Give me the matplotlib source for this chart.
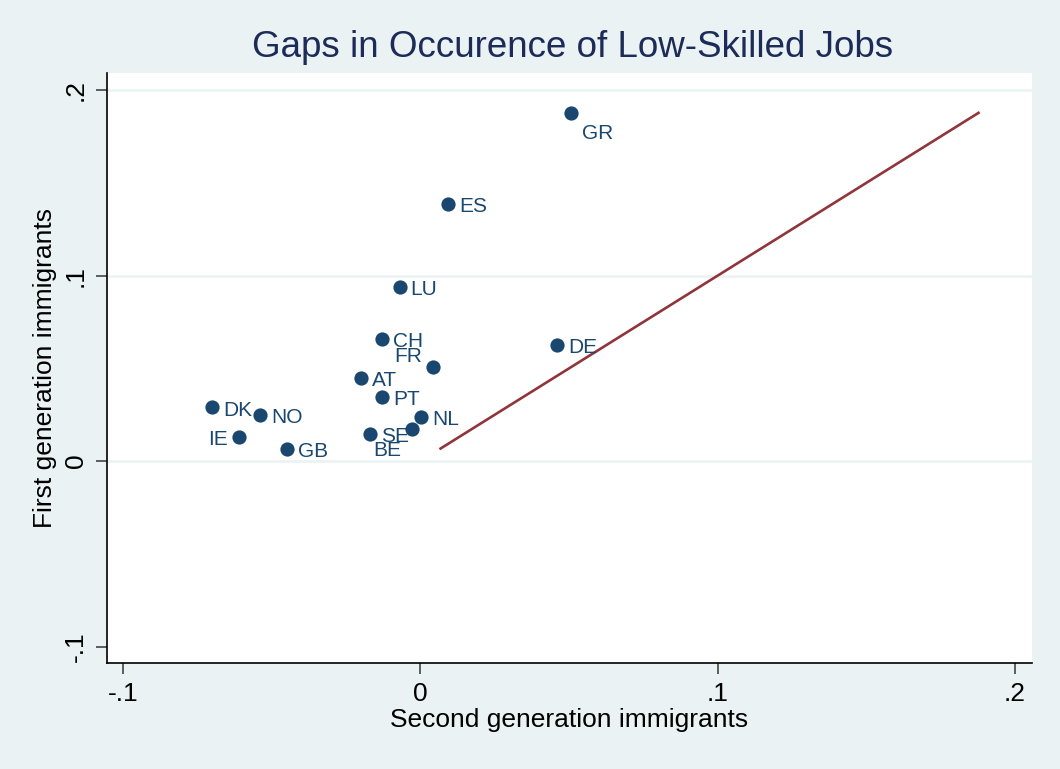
import matplotlib
matplotlib.use("Agg")
import matplotlib.pyplot as plt

# gaps in occurrence of low-skilled jobs, by country
countries = ['GR', 'ES', 'LU', 'CH', 'DE', 'FR', 'AT', 'PT',
             'DK', 'NO', 'NL', 'BE', 'SE', 'IE', 'GB']
second_gen = [0.0506, 0.0092, -0.0070, -0.0130, 0.0460, 0.0042, -0.0201, -0.0130,
              -0.0700, -0.0540, 0.0001, -0.0027, -0.0171, -0.0611, -0.0450]
first_gen = [0.1877, 0.1388, 0.0940, 0.0658, 0.0628, 0.0508, 0.0449, 0.0346,
             0.0290, 0.0249, 0.0240, 0.0172, 0.0148, 0.0129, 0.0068]
# stata-style label clock positions (3 = right)
label_pos = [4, 3, 3, 3, 3, 10, 3, 3, 3, 3, 3, 8, 3, 9, 3]

navy = '#1a476f'
maroon = '#90353b'
bg = '#eaf2f3'

plt.rcParams['font.family'] = ['Liberation Sans', 'DejaVu Sans']

fig = plt.figure(figsize=(10.6, 7.69), dpi=100, facecolor=bg)
ax = fig.add_axes([0.1009, 0.1378, 0.8727, 0.7673])
ax.set_facecolor('white')

for g in [0, 0.1, 0.2]:
    ax.axhline(g, color=bg, lw=1.8, zorder=0)

ax.scatter(second_gen, first_gen, s=105, color=navy, zorder=3, linewidths=0)

offsets = {3: (8, -2, 'left'), 4: (8, -15, 'left'), 10: (-8, 7.5, 'right'),
           9: (-8, -2, 'right'), 8: (-8, -15, 'right')}
for c, x, y, p in zip(countries, second_gen, first_gen, label_pos):
    dx, dy, ha = offsets[p]
    ax.annotate(c, (x, y), xytext=(dx, dy), textcoords='offset points',
                ha=ha, va='center', fontsize=15, color=navy, zorder=4)

lo, hi = min(first_gen), max(first_gen)
ax.plot([lo, hi], [lo, hi], color=maroon, lw=1.9, zorder=2)

ax.set_xlim(-0.1054, 0.2057)
ax.set_ylim(-0.1088, 0.2092)
ax.set_xticks([-0.1, 0, 0.1, 0.2])
ax.set_xticklabels(['-.1', '0', '.1', '.2'])
ax.set_yticks([-0.1, 0, 0.1, 0.2])
ax.set_yticklabels(['-.1', '0', '.1', '.2'], rotation=90, va='center')

for s in ['top', 'right']:
    ax.spines[s].set_visible(False)
for s in ['left', 'bottom']:
    ax.spines[s].set_color('black')
    ax.spines[s].set_linewidth(1.2)
ax.tick_params(axis='both', direction='out', length=8, width=1.2, color='#444444',
               labelsize=19, labelcolor='black', pad=6)

ax.set_xlabel('Second generation immigrants', fontsize=19, labelpad=1)
ax.set_ylabel('First generation immigrants', fontsize=19, labelpad=5)
fig.text(0.5405, 0.938, 'Gaps in Occurence of Low-Skilled Jobs', ha='center', va='center',
         fontsize=26.5, color='#1c2b58')

fig.savefig('out.png', dpi=100, facecolor=bg)
